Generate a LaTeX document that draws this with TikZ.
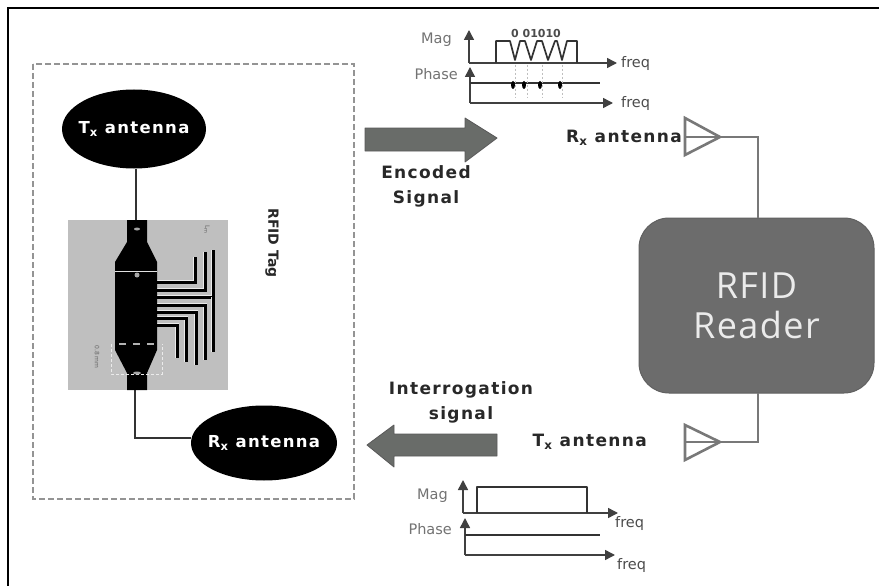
\documentclass[tikz,border=0pt]{standalone}
\usepackage{fontspec}
\setmainfont{DejaVu Sans}
\newfontfamily\labfont[LetterSpace=8]{DejaVu Sans}
\newfontfamily\rdrfont[LetterSpace=4]{Open Sans}
\usetikzlibrary{arrows.meta,shapes.geometric}
\definecolor{rdr}{RGB}{108,108,108}
\definecolor{ant}{RGB}{120,120,120}
\definecolor{lbl}{RGB}{40,40,40}
\definecolor{arrowg}{RGB}{105,108,105}
\tikzset{
  ell/.style={ellipse,fill=black,text=white,font=\labfont\fontsize{16.5}{20}\selectfont\bfseries,inner xsep=-14pt,inner ysep=-3pt},
  lab/.style={text=lbl,font=\labfont\fontsize{17}{25}\selectfont\bfseries,inner sep=0pt,align=center},
  small/.style={text=black!55,font=\fontsize{14.5}{16}\selectfont,inner sep=0pt},
  wire/.style={draw=ant,line width=2.6pt},
  ax/.style={draw=black!75,line width=1.5pt,-{Triangle[length=10pt,width=10pt]}},
  trace/.style={draw=black,line width=3pt},
  halo/.style={draw=white!92!black,line width=4.6pt},
  big/.style={draw=black!65,fill=arrowg,line width=0.8pt,line join=round},
  curve/.style={draw=black!80,line width=1.7pt,line join=round}
}
\newcommand{\chiptrace}[1]{\draw[halo] #1; \draw[trace] #1;}
\begin{document}
\begin{tikzpicture}[x=1pt,y=-1pt]
\useasboundingbox (0,0) rectangle (879,586);
\fill[white] (0,0) rectangle (879,586);
\draw[black,line width=2pt] (8,586) -- (8,8) -- (879,8);
% tag box
\draw[draw=black!42,line width=2.6pt,dash pattern=on 6pt off 3pt] (33,64) rectangle (354,499);
\node[lab,rotate=-90,font=\fontsize{14}{18}\selectfont\bfseries] (tagl) at (272,243) {RFID Tag};
% chip
\fill[black!25] (68,220) rectangle (228,390);
\node[ell,minimum width=144pt,minimum height=79pt] (tx) at (134,129) {T\textsubscript{x} antenna};
\node[ell,minimum width=146pt,minimum height=75pt] (rx) at (264,443) {R\textsubscript{x} antenna};
\coordinate (chiptop) at (136,220);
\coordinate (chipbot) at (135,390);
\draw[black!80,line width=1.6pt] (chiptop |- tx.south) -- (chiptop);
\draw[black!80,line width=1.6pt] (chipbot) -- (135,438) -- (rx.west |- 135,438);
% traces
\chiptrace{(155,282) -- (195,282) -- (195,257)}
\chiptrace{(155,290) -- (205,290) -- (205,252)}
\chiptrace{(155,297) -- (213,297) -- (213,250)}
\chiptrace{(213,297) -- (213,352)}
\chiptrace{(155,305) -- (205,305) -- (205,360)}
\chiptrace{(155,312) -- (196,312) -- (196,365)}
\chiptrace{(155,318) -- (186,318) -- (186,362)}
\chiptrace{(155,325) -- (177,325) -- (177,358)}
% chip body
\fill[black] (127,220) -- (147,220) -- (147,242) -- (157,262) -- (157,350) -- (147,373) -- (147,390) -- (127,390) -- (127,373) -- (115,350) -- (115,262) -- (127,242) -- cycle;
\draw[black!12,line width=0.7pt] (115,271) -- (157,271);
\draw[black!30,line width=1.3pt,dash pattern=on 7pt off 7pt] (119,344) -- (157,344);
\draw[black!8,line width=0.8pt,dash pattern=on 3pt off 2pt] (111,344) -- (111,374) -- (162,374) -- (162,344);
\fill[black!35] (137,275) circle (2.5pt);
\fill[black!35] (137,373) ellipse (4pt and 1.5pt);
\fill[black!35] (137,229) ellipse (3pt and 1.5pt);
\node[text=black!60,font=\fontsize{6}{7}\selectfont,inner sep=0pt,rotate=-90] (chl) at (207,230) {L\textsubscript{m}};
\node[text=black!60,font=\fontsize{6}{7}\selectfont,inner sep=0pt,rotate=-90] (chm) at (97,357) {0.8 mm};
% big arrows
\draw[big] (365,128) -- (465,128) -- (465,118) -- (497,138) -- (465,162) -- (465,151) -- (365,151) -- cycle;
\draw[big] (497,434) -- (394,434) -- (394,425) -- (367,445) -- (394,467) -- (394,456) -- (497,456) -- cycle;
\node[lab] (enc) at (426,186) {Encoded\\Signal};
\node[lab] (int) at (461,402) {Interrogation\\signal};
% reader
\node[draw=ant!80!black,fill=rdr,rounded corners=30pt,minimum width=235pt,minimum height=175pt,line width=1pt,inner sep=0pt,text=white!92!black,font=\rdrfont\fontsize{36}{40}\selectfont,align=center] (reader) at (756.5,305.5) {RFID\\Reader};
% antennas
\draw[wire,fill=white] (685,118) -- (720,137) -- (685,155) -- cycle;
\coordinate (rt) at (720,137);
\draw[draw=ant,line width=1.6pt] (685,137) -- (rt);
\draw[wire] (rt) -- (758,137) -- (758,218);
\draw[wire,fill=white] (685,425) -- (720,442) -- (685,460) -- cycle;
\coordinate (tt) at (720,442);
\draw[draw=ant,line width=1.6pt] (685,442) -- (tt);
\draw[wire] (tt) -- (758,442) -- (758,393);
\node[lab,anchor=east] (rxl) at (682,138) {R\textsubscript{x} antenna};
\node[lab,anchor=east] (txl) at (647,442) {T\textsubscript{x} antenna};
% top plot
\node[small,anchor=east] (mag1) at (452,40) {Mag};
\node[small,anchor=east] (ph1) at (458,74) {Phase};
\draw[ax] (469,63) -- (469,30);
\draw[ax] (469,63) -- (617,63);
\draw[ax] (470,103) -- (470,67);
\draw[ax] (470,103) -- (613,103);
\draw[curve] (470,83) -- (600,83);
\draw[curve] (496,63) -- (496,41) -- (510,41) -- (515,60) -- (520,41) -- (525,41) -- (531,60) -- (537,41) -- (542,41) -- (548,60) -- (555,41) -- (557,41) -- (562,60) -- (567,41) -- (577,41) -- (577,63);
\foreach \x in {515,527,542,562}{\draw[black!25,line width=0.7pt,dash pattern=on 2pt off 2pt] (\x,65) -- (\x,98);}
\foreach \x in {513,524,540,560}{\fill[black] (\x,85) ellipse (2pt and 4pt);}
\node[font=\fontsize{11}{14}\selectfont\bfseries,text=black!70,inner sep=0pt] (bits) at (536,33) {0 01010};
\node[small,anchor=west,text=black!70] (f1) at (621,63) {freq};
\node[small,anchor=west,text=black!70] (f2) at (621,103) {freq};
% bottom plot
\node[small,anchor=east] (mag2) at (448,496) {Mag};
\node[small,anchor=east] (ph2) at (452,529) {Phase};
\draw[ax] (463,513) -- (463,480);
\draw[ax] (463,513) -- (618,513);
\draw[ax] (465,555) -- (465,518);
\draw[ax] (465,555) -- (615,555);
\draw[curve] (465,535) -- (600,535);
\draw[curve] (477,513) -- (477,487) -- (587,487) -- (587,513);
\node[small,anchor=west,text=black!70] (f3) at (615,523) {freq};
\node[small,anchor=west,text=black!70] (f4) at (617,565) {freq};
\end{tikzpicture}
\end{document}
